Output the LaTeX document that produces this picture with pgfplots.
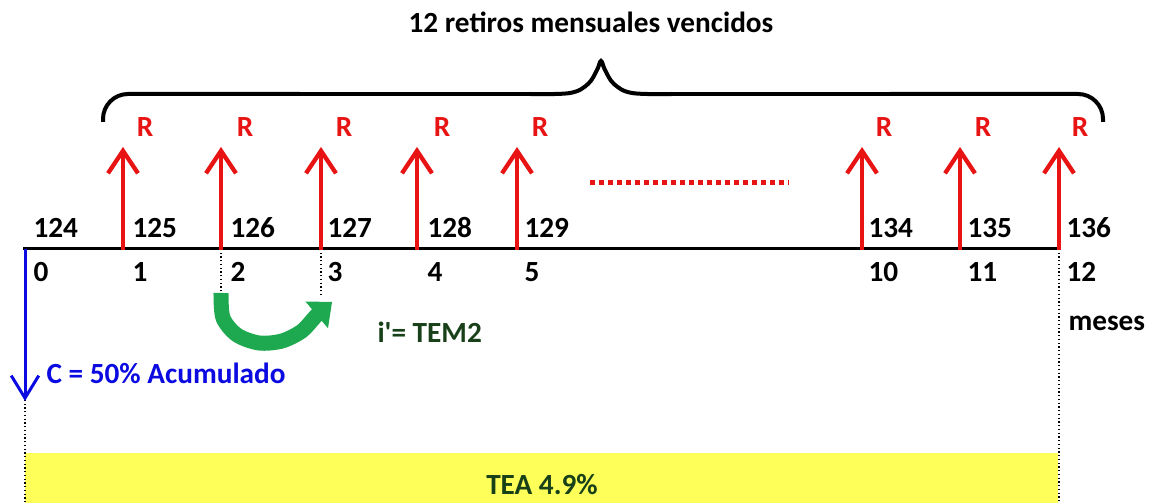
\documentclass[border=0pt]{standalone}
\usepackage{fontspec}
\setmainfont{Carlito}[BoldFont={Carlito Bold}]
\usepackage{pgfplots}
\pgfplotsset{compat=1.18}
\usetikzlibrary{arrows.meta}
\definecolor{ared}{RGB}{232,20,20}
\definecolor{ablue}{RGB}{10,10,225}
\definecolor{agreen}{RGB}{30,168,80}
\definecolor{dgreen}{RGB}{25,65,25}
\definecolor{ayellow}{RGB}{255,255,90}
\tikzset{lbl/.style={font=\bfseries\fontsize{11.7}{13}\selectfont, inner sep=0pt}}
\begin{document}
\begin{tikzpicture}
\begin{axis}[
  scale only axis, width=462.8pt, height=201.2pt,
  xmin=0, xmax=1157, ymin=0, ymax=503, y dir=reverse,
  hide axis, clip=false,
]
% frame for bounding box
\addplot[draw=none] coordinates {(0,0) (1157,503)};
% yellow band
\addplot[draw=none, fill=ayellow] coordinates {(25,453) (1058,453) (1058,503) (25,503)};
% dotted verticals
\addplot[black, densely dotted, line width=0.5pt] coordinates {(25,400) (25,503)};
\addplot[black, densely dotted, line width=0.5pt] coordinates {(1059,249) (1059,503)};
\addplot[black, densely dotted, line width=0.5pt] coordinates {(221,249) (221,297)};
\addplot[black, densely dotted, line width=0.5pt] coordinates {(321,249) (321,297)};
% timeline
\addplot[black, line width=1.2pt] coordinates {(23,249) (1060,249)};
% red arrows (retiros R)
\addplot[ared, line width=1.7pt, -{Straight Barb[length=9pt,width=12pt]}] coordinates {(123,250) (123,147)};
\addplot[ared, line width=1.7pt, -{Straight Barb[length=9pt,width=12pt]}] coordinates {(221,250) (221,147)};
\addplot[ared, line width=1.7pt, -{Straight Barb[length=9pt,width=12pt]}] coordinates {(321,250) (321,147)};
\addplot[ared, line width=1.7pt, -{Straight Barb[length=9pt,width=12pt]}] coordinates {(417,250) (417,147)};
\addplot[ared, line width=1.7pt, -{Straight Barb[length=9pt,width=12pt]}] coordinates {(517,250) (517,147)};
\addplot[ared, line width=1.7pt, -{Straight Barb[length=9pt,width=12pt]}] coordinates {(862,250) (862,147)};
\addplot[ared, line width=1.7pt, -{Straight Barb[length=9pt,width=12pt]}] coordinates {(960,250) (960,147)};
\addplot[ared, line width=1.7pt, -{Straight Barb[length=9pt,width=12pt]}] coordinates {(1059,250) (1059,147)};
% red dots
\addplot[ared, line width=2pt, dash pattern=on 2pt off 1.6pt] coordinates {(590,183) (789,183)};
% brace
\addplot[black, line width=1.6pt, rounded corners=10pt] coordinates {(103,122) (103,94) (300,94)};
\addplot[black, line width=1.6pt, smooth, tension=0.6] coordinates {(530,94) (570,93) (588,84) (597,70) (601,61) (605,70) (614,84) (632,93) (672,94)};
\addplot[black, line width=1.6pt] coordinates {(290,94) (540,94)};
\addplot[black, line width=1.6pt] coordinates {(662,94) (900,94)};
\addplot[black, line width=1.6pt, rounded corners=10pt] coordinates {(890,94) (1103,94) (1103,122)};
% blue arrow
\addplot[ablue, line width=1.2pt, -{Straight Barb[length=9pt,width=11pt]}] coordinates {(25,249) (25,401)};
% green arrow
\addplot[agreen, line width=6pt, smooth, -{Triangle[length=8pt,width=14pt,line width=0pt]}] coordinates {(221,293) (223,318) (237,335) (259,343) (282,341) (302,331) (316,316) (332,302)};
% texts
\node[lbl] at (axis cs:591,22) {12 retiros mensuales vencidos};
\node[lbl, text=ared] at (axis cs:145,127) {R};
\node[lbl, text=ared] at (axis cs:245,127) {R};
\node[lbl, text=ared] at (axis cs:344,127) {R};
\node[lbl, text=ared] at (axis cs:442,127) {R};
\node[lbl, text=ared] at (axis cs:540,127) {R};
\node[lbl, text=ared] at (axis cs:884,127) {R};
\node[lbl, text=ared] at (axis cs:983,127) {R};
\node[lbl, text=ared] at (axis cs:1080,127) {R};
\node[lbl, anchor=west] at (axis cs:33,228) {124};
\node[lbl, anchor=west] at (axis cs:132,228) {125};
\node[lbl, anchor=west] at (axis cs:230,228) {126};
\node[lbl, anchor=west] at (axis cs:327,228) {127};
\node[lbl, anchor=west] at (axis cs:427,228) {128};
\node[lbl, anchor=west] at (axis cs:524,228) {129};
\node[lbl, anchor=west] at (axis cs:868,228) {134};
\node[lbl, anchor=west] at (axis cs:967,228) {135};
\node[lbl, anchor=west] at (axis cs:1066,228) {136};
\node[lbl, anchor=west] at (axis cs:33,272) {0};
\node[lbl, anchor=west] at (axis cs:132,272) {1};
\node[lbl, anchor=west] at (axis cs:230,272) {2};
\node[lbl, anchor=west] at (axis cs:327,272) {3};
\node[lbl, anchor=west] at (axis cs:427,272) {4};
\node[lbl, anchor=west] at (axis cs:524,272) {5};
\node[lbl, anchor=west] at (axis cs:868,272) {10};
\node[lbl, anchor=west] at (axis cs:967,272) {11};
\node[lbl, anchor=west] at (axis cs:1066,272) {12};
\node[lbl, anchor=west] at (axis cs:1068,323) {meses};
\node[lbl, anchor=west, text=ablue] at (axis cs:46,373) {C = 50\% Acumulado};
\node[lbl, anchor=west, text=dgreen] at (axis cs:377,332) {i\textquotesingle= TEM2};
\node[lbl, text=dgreen] at (axis cs:542,485) {TEA 4.9\%};
\end{axis}
\end{tikzpicture}
\end{document}
